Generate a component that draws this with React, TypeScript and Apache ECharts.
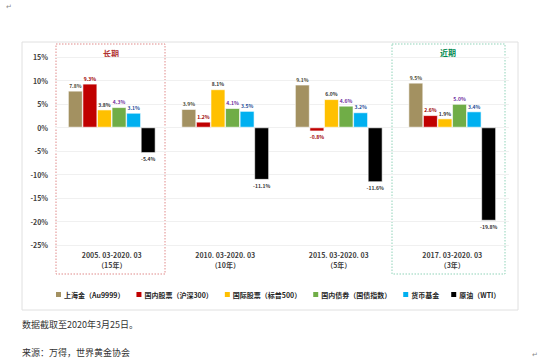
import React, { useEffect, useRef } from "react";
import * as echarts from "echarts";

const categories = [
  "2005. 03-2020. 03\n（15年）",
  "2010. 03-2020. 03\n（10年）",
  "2015. 03-2020. 03\n（5年）",
  "2017. 03-2020. 03\n（3年）",
];
const seriesNames = [
  "上海金（Au9999）",
  "国内股票（沪深300）",
  "国际股票（标普500）",
  "国内债券（国债指数）",
  "货币基金",
  "原油（WTI）",
];
const goldValues = [7.8, 3.9, 9.1, 9.5];
const csiValues = [9.3, 1.2, -0.8, 2.6];
const spValues = [3.8, 8.1, 6.0, 1.9];
const bondValues = [4.3, 4.1, 4.6, 5.0];
const moneyValues = [3.1, 3.5, 3.2, 3.4];
const oilValues = [-5.4, -11.1, -11.6, -19.8];
const yTicks = [15, 10, 5, 0, -5, -10, -15, -20, -25];

const seriesValues = [goldValues, csiValues, spValues, bondValues, moneyValues, oilValues];
const barColors = ["#A39161", "#C00000", "#FFC000", "#70AD47", "#00B0F0", "#000000"];
const labelColors = ["#4d4d3a", "#A00000", "#333333", "#7030A0", "#1F4E99", "#333333"];
const FONT = "'Noto Sans CJK SC', 'Noto Sans', sans-serif";

export default function App() {
  const ref = useRef<HTMLDivElement>(null);
  useEffect(() => {
    if (!ref.current) return;
    const chart = echarts.init(ref.current, null, { renderer: "svg" });
    const series = seriesValues.map((vals, i) => ({
      name: seriesNames[i],
      type: "bar",
      barGap: "0%",
      barCategoryGap: "23%",
      itemStyle: { color: barColors[i], borderColor: "#ffffff", borderWidth: 0.6 },
      data: vals.map((v) => ({
        value: v,
        label: {
          show: true,
          position: v >= 0 ? "top" : "bottom",
          distance: 3,
          formatter: (p: any) => p.value.toFixed(1) + "%",
          color: labelColors[i],
          fontSize: 5,
          fontWeight: "bold",
          fontFamily: FONT,
        },
      })),
    }));
    chart.setOption({
      animation: false,
      backgroundColor: "#ffffff",
      textStyle: { fontFamily: FONT },
      grid: { left: 55, right: 41, top: 57, bottom: 359 - 245, containLabel: false },
      legend: {
        data: seriesNames.map((n, i) => ({ name: n, itemStyle: { color: barColors[i], borderWidth: 0 } })),
        left: 51,
        top: 286,
        itemWidth: 5,
        itemHeight: 5,
        itemGap: 12,
        icon: "rect",
        textStyle: { fontSize: 7, color: "#262626", fontWeight: "bold", fontFamily: FONT, padding: [0, 0, 0, -2] },
      },
      xAxis: {
        type: "category",
        data: categories,
        axisLine: { show: false },
        axisTick: { show: false },
        axisLabel: {
          margin: 5,
          fontSize: 7,
          lineHeight: 10,
          color: "#404040",
          fontWeight: "bold",
          fontFamily: FONT,
        },
      },
      yAxis: {
        type: "value",
        min: yTicks[yTicks.length - 1],
        max: yTicks[0],
        interval: 5,
        axisLine: { show: false },
        axisTick: { show: false },
        splitLine: { lineStyle: { color: "#F0F0F0", width: 1 } },
        axisLabel: {
          formatter: "{value}%",
          fontSize: 7,
          margin: 7,
          color: "#404040",
          fontWeight: "bold",
          fontFamily: FONT,
        },
      },
      graphic: [
        {
          type: "rect",
          shape: { x: 22, y: 42, width: 496, height: 268 },
          style: { fill: "none", stroke: "#E0E0E0", lineWidth: 1 },
          z: -1,
        },
        {
          type: "rect",
          shape: { x: 56, y: 44, width: 109, height: 230 },
          style: { fill: "none", stroke: "#E08A8A", lineWidth: 1, lineDash: [1.5, 1.5] },
        },
        {
          type: "rect",
          shape: { x: 392, y: 44, width: 113, height: 230 },
          style: { fill: "none", stroke: "#8FD3B8", lineWidth: 1, lineDash: [1.5, 1.5] },
        },
        {
          type: "text",
          x: 111,
          y: 53,
          style: {
            text: "长期",
            fill: "#B03030",
            fontSize: 8,
            fontWeight: "bold",
            fontFamily: FONT,
            align: "center",
            verticalAlign: "middle",
          },
        },
        {
          type: "text",
          x: 448,
          y: 52,
          style: {
            text: "近期",
            fill: "#008A50",
            fontSize: 8,
            fontWeight: "bold",
            fontFamily: FONT,
            align: "center",
            verticalAlign: "middle",
          },
        },
        {
          type: "text",
          x: 22,
          y: 324,
          style: {
            text: "数据截取至2020年3月25日。",
            fill: "#333333",
            fontSize: 9,
            fontFamily: FONT,
            verticalAlign: "middle",
          },
        },
        {
          type: "text",
          x: 22,
          y: 352,
          style: {
            text: "来源：万得，世界黄金协会",
            fill: "#333333",
            fontSize: 9,
            fontFamily: FONT,
            verticalAlign: "middle",
          },
        },
        {
          type: "text",
          x: 6,
          y: 6,
          style: { text: "↵", fill: "#888888", fontSize: 7, fontFamily: FONT, verticalAlign: "middle" },
        },
        {
          type: "text",
          x: 532,
          y: 354,
          style: { text: "↵", fill: "#888888", fontSize: 7, fontFamily: FONT, verticalAlign: "middle" },
        },
      ],
      series,
    });
    return () => chart.dispose();
  }, []);
  return (
    <div
      ref={ref}
      style={{ position: "fixed", left: 0, top: 0, width: 550, height: 359, background: "#fff" }}
    />
  );
}
